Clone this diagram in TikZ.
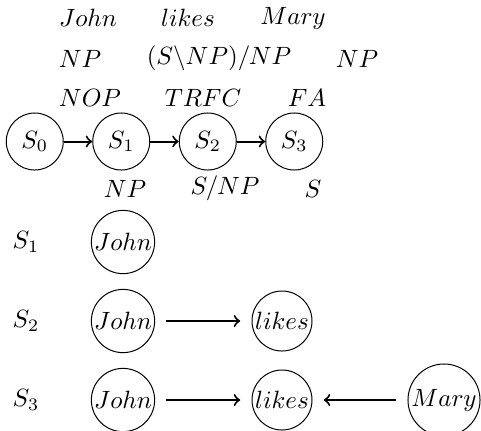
\documentclass[tikz,border=0pt]{standalone}
\usepackage{amsmath,amssymb}
\usetikzlibrary{positioning}

\begin{document}
\begin{tikzpicture}[node distance=34.6pt,
  state/.style={circle,draw},
  word/.style={circle,draw,inner sep=0.5pt,minimum size=24pt},
  link/.style={->,thick,shorten <=4.5pt,shorten >=4.5pt}]
\useasboundingbox (0,0) rectangle (192.4pt,-172pt);
% words, categories and actions
\node (wJ) at (35.2pt,-7.3pt) {$John$};
\node (wL) at (75.2pt,-7.3pt) {$likes$};
\node (wM) at (117.2pt,-7.3pt) {$Mary$};
\node (cJ) at (32pt,-23.4pt) {$NP$};
\node (cL) at (87.6pt,-23.4pt) {$(S\backslash NP)/NP$};
\node (cM) at (142.8pt,-23.4pt) {$NP$};
\node (aJ) at (36pt,-39pt) {$NOP$};
\node (aL) at (81.2pt,-39pt) {$TRFC$};
\node (aM) at (122.8pt,-39pt) {$FA$};
% states
\node (S0) [state] at (13.9pt,-56.6pt) {$S_0$};
\node (S1) [state, right of=S0] {$S_1$};
\node (S2) [state, right of=S1] {$S_2$};
\node (S3) [state, right of=S2] {$S_3$};
\draw[->,thick] (S0) -- (S1);
\draw[->,thick] (S1) -- (S2);
\draw[->,thick] (S2) -- (S3);
\node (r1) at (50pt,-75.4pt) {$NP$};
\node (r2) at (90pt,-75.4pt) {$S/NP$};
\node (r3) at (125.2pt,-75.4pt) {$S$};
% dependency graphs
\node (L1) at (10.4pt,-96.8pt) {$S_1$};
\node (J1) [word] at (49.2pt,-96.8pt) {$John$};
\node (L2) at (10.4pt,-128.4pt) {$S_2$};
\node (J2) [word] at (49.2pt,-128.4pt) {$John$};
\node (K2) [word] at (112.8pt,-128.4pt) {$likes$};
\node (L3) at (10.4pt,-160pt) {$S_3$};
\node (J3) [word] at (49.2pt,-160pt) {$John$};
\node (K3) [word] at (112.8pt,-160pt) {$likes$};
\node (M3) [word] at (177.6pt,-160pt) {$Mary$};
\draw[link] (J2) -- (K2);
\draw[link] (J3) -- (K3);
\draw[link] (M3) -- (K3);
\end{tikzpicture}
\end{document}
